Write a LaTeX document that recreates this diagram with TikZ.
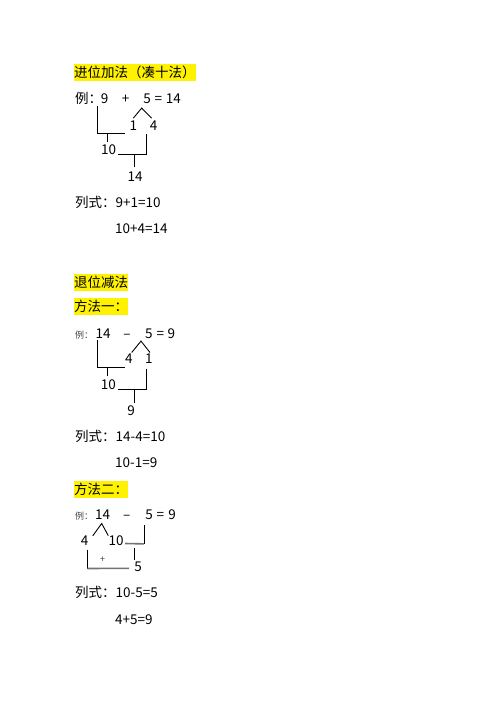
\documentclass[tikz,border=0pt]{standalone}
\usepackage{fontspec}
\setmainfont{Noto Sans CJK SC}
\begin{document}
\begin{tikzpicture}[x=1pt, y=-1pt,
       every node/.style={inner sep=0pt, font=\fontsize{13.5}{16}\selectfont},
       hilite/.style={anchor=base west, fill=yellow, text height=13pt, text depth=4pt},
       small/.style={font=\fontsize{9}{11}\selectfont, text=black!75},
       line/.style={draw=black, line width=0.9pt},
       gline/.style={draw=black!55, line width=1.6pt}]
\useasboundingbox (0,0) rectangle (496,702);
\node[hilite] (t1) at (74,77) {进位加法（凑十法）};
\node[anchor=base west] (ex1) at (75,103.3) {例：};
\node[anchor=base] (a9) at (104.5,103.3) {9};
\node[anchor=base] (aplus) at (125.5,103.3) {+};
\node[anchor=base] (a5) at (147,103.3) {5};
\node[anchor=base] (aeq) at (158.3,103.3) {=};
\node[anchor=base] (a14) at (173.3,103.3) {14};
\node[anchor=base] (a1) at (133.3,130) {1};
\node[anchor=base] (a4) at (153.7,130) {4};
\node[anchor=base] (a10) at (108.7,154) {10};
\node[anchor=base] (asum) at (135,181.5) {14};
\draw[line] ([shift={(-7,2.5)}]a9.south) |- ([shift={(-8,3.3)}]a1.south);
\draw[line] ([shift={(-1.4,-2.3)}]a10.north) -- ++(0,-8.7);
\draw[line] ([shift={(0,-2)}]a1.north) -- ([shift={(-5.3,4.4)}]a5.south) -- ([shift={(-2,-2)}]a4.north);
\draw[line] ([shift={(-7,4)}]a4.south) |- ([xshift=2pt]a10.base east);
\draw[line] ([shift={(-0.7,-4.8)}]asum.north) -- ++(0,-12.7);
\node[anchor=base west] (eq1) at (75,207) {列式：9+1=10};
\node[anchor=base west] (eq2) at (115,233) {10+4=14};
\node[hilite] (t2) at (74,287) {退位减法};
\node[hilite] (t3) at (74,311) {方法一：};
\node[small, anchor=base west] (ex2) at (75,338.5) {例：};
\node[anchor=base] (b14) at (103,338.5) {14};
\node[anchor=base] (bminus) at (127,338.5) {–};
\node[anchor=base] (b5) at (148.8,338.5) {5};
\node[anchor=base] (beq) at (160.3,338.5) {=};
\node[anchor=base] (b9) at (171.3,338.5) {9};
\node[anchor=base] (b4) at (128.8,363.3) {4};
\node[anchor=base] (b1) at (148.8,363.3) {1};
\node[anchor=base] (b10) at (108.3,389) {10};
\node[anchor=base] (bres) at (131.2,415) {9};
\draw[line] ([shift={(-5.7,1.5)}]b14.south) |- ([shift={(-3.8,4)}]b4.south);
\draw[line] ([shift={(-1,-2.6)}]b10.north) -- ++(0,-9.4);
\draw[line] ([shift={(2.9,-1)}]b4.north) -- ([shift={(-7.8,2.2)}]b5.south) -- ([shift={(1.2,-1)}]b1.north);
\draw[line] ([shift={(-2.1,5)}]b1.south) |- ([xshift=2.5pt]b10.base east);
\draw[line] ([shift={(3.1,-2)}]bres.north) -- ++(0,-14.3);
\node[anchor=base west] (eq3) at (75,441.5) {列式：14-4=10};
\node[anchor=base west] (eq4) at (115,467.5) {10-1=9};
\node[hilite] (t4) at (74,494) {方法二：};
\node[small, anchor=base west] (ex3) at (75,519) {例：};
\node[anchor=base] (c14) at (102.7,519) {14};
\node[anchor=base] (cminus) at (126.8,519) {–};
\node[anchor=base] (c5) at (149,519) {5};
\node[anchor=base] (ceq) at (160.3,519) {=};
\node[anchor=base] (c9) at (172,519) {9};
\node[anchor=base] (c4) at (84.5,545) {4};
\node[anchor=base] (c10) at (116,545) {10};
\node[anchor=base] (cres) at (138,571) {5};
\node[small] (cplus) at (102.7,560) {+};
\draw[line] ([shift={(8.2,0.7)}]c4.north) -- ([shift={(-1,4.3)}]c14.south) -- ([shift={(-7.7,0.7)}]c10.north);
\draw[line] ([shift={(-5,6)}]c5.south) -- ++(0,18.5);
\draw[gline] ([shift={(1.5,-1.5)}]c10.base east) -- ([shift={(-5,24.5)}]c5.south);
\draw[line] ([shift={(-4,-1.3)}]cres.north) -- ++(0,-11.7);
\draw[line] ([shift={(2.8,4.3)}]c4.south) -- ++(0,19);
\draw[gline] ([shift={(2.8,23.3)}]c4.south) -- ([shift={(-5,-2.7)}]cres.base west);
\node[anchor=base west] (eq5) at (75,597.5) {列式：10-5=5};
\node[anchor=base west] (eq6) at (115,624) {4+5=9};
\end{tikzpicture}
\end{document}
